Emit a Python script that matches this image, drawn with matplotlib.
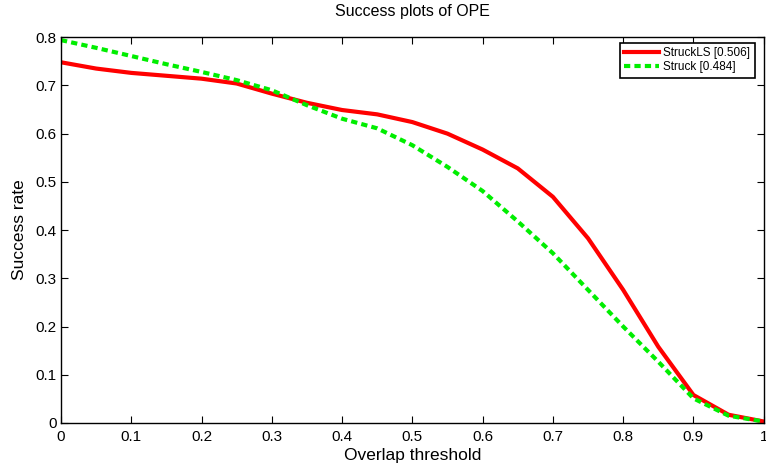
import matplotlib
matplotlib.use("Agg")
import matplotlib.pyplot as plt
import numpy as np

# overlap thresholds and success rates
thresholds = [0.0, 0.05, 0.1, 0.15, 0.2, 0.25, 0.3, 0.35, 0.4, 0.45, 0.5,
              0.55, 0.6, 0.65, 0.7, 0.75, 0.8, 0.85, 0.9, 0.95, 1.0]
struckls = [0.748, 0.735, 0.726, 0.720, 0.714, 0.704, 0.683, 0.664, 0.649, 0.640, 0.624,
            0.600, 0.567, 0.528, 0.469, 0.383, 0.276, 0.158, 0.058, 0.017, 0.003]
struck = [0.794, 0.778, 0.761, 0.744, 0.728, 0.711, 0.690, 0.659, 0.631, 0.611, 0.576,
          0.531, 0.481, 0.418, 0.352, 0.276, 0.200, 0.127, 0.051, 0.015, 0.003]
labels = ["StruckLS [0.506]", "Struck [0.484]"]

plt.rcParams['font.family'] = ['Liberation Sans', 'DejaVu Sans']

fig = plt.figure(figsize=(7.66, 4.71), dpi=100)
ax = fig.add_axes([0.0796, 0.102, 0.9174, 0.819])

ax.plot(thresholds, struckls, color='#ff0000', lw=3.0, label=labels[0])
ax.plot(thresholds, struck, color='#00ee00', lw=3.0, ls=(0, (1.5, 1.0)), label=labels[1])

ax.set_xlim(0, 1)
ax.set_ylim(0, 0.8)
ax.set_xticks(np.arange(0, 1.01, 0.1))
ax.set_yticks(np.arange(0, 0.81, 0.1))
ax.set_xticklabels(['0', '0.1', '0.2', '0.3', '0.4', '0.5', '0.6', '0.7', '0.8', '0.9', '1'])
ax.set_yticklabels(['0', '0.1', '0.2', '0.3', '0.4', '0.5', '0.6', '0.7', '0.8'])
ax.tick_params(direction='in', length=5, width=0.8, top=True, right=True,
               labelsize=11, pad=3)
ax.tick_params(axis='x', pad=5)
for s in ax.spines.values():
    s.set_linewidth(1.0)

ax.set_xlabel('Overlap threshold', fontsize=12.5, labelpad=3)
ax.set_ylabel('Success rate', fontsize=12.5, labelpad=6)
ax.set_title('Success plots of OPE', fontsize=11.5, pad=15)

leg = ax.legend(loc='upper right', bbox_to_anchor=(0.987, 0.985), borderaxespad=0,
                fontsize=8.5, fancybox=False, framealpha=1, edgecolor='black',
                handlelength=3.0, handletextpad=0.35, borderpad=0.35,
                labelspacing=0.2)
leg.get_frame().set_linewidth(1.2)

fig.savefig('out.png', dpi=100)
